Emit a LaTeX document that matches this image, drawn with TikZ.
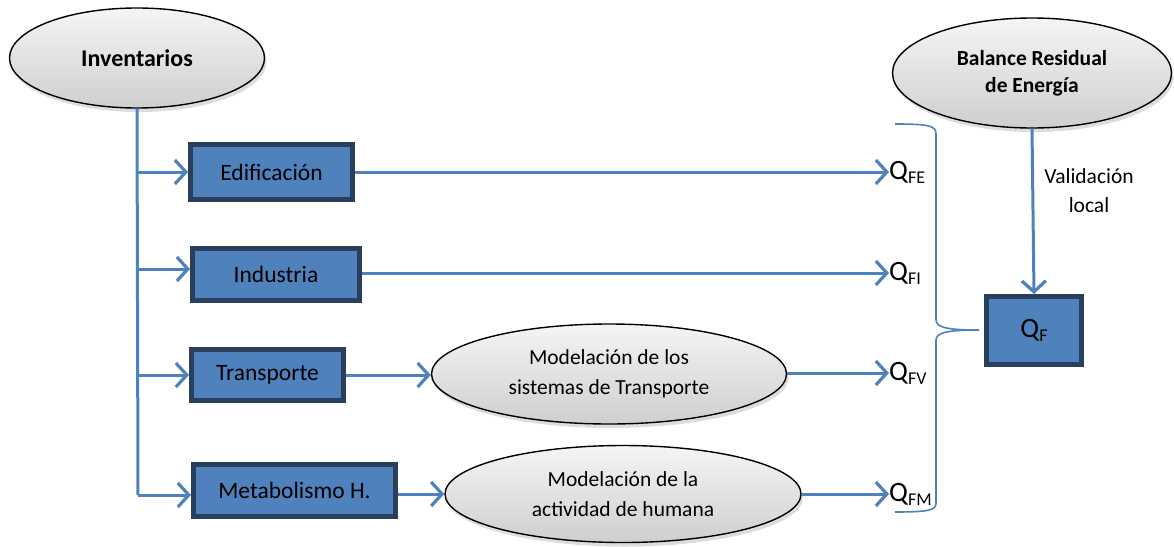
\documentclass[tikz,border=0pt]{standalone}
\usepackage{fontspec}
\setmainfont{Carlito}
\usetikzlibrary{arrows.meta,shapes.geometric,shadows}
\definecolor{obl}{HTML}{4F81BD}
\definecolor{odk}{HTML}{283F5E}
\newcommand{\Qsub}[1]{Q{\fontsize{18}{18}\selectfont\raisebox{-4pt}{#1}}}
\tikzset{
  ell/.style={ellipse, draw=black, line width=1.4pt, top color=gray!8, bottom color=gray!38,
    drop shadow={shadow xshift=2pt, shadow yshift=-4pt, fill=gray!45, opacity=0.6},
    align=center, inner sep=0pt},
  bbox/.style={rectangle, draw=odk, line width=5pt, fill=obl, inner sep=0pt,
    font=\fontsize{23.5}{27}\selectfont},
  conn/.style={draw=obl, line width=3pt},
  arr/.style={conn, -{Straight Barb[length=11pt,width=24pt,line width=3.2pt]}},
  brc/.style={draw=obl, line width=1.6pt},
  qlab/.style={anchor=west, inner sep=0pt, font=\fontsize{28}{30}\selectfont}
}
\begin{document}
\begin{tikzpicture}[x=1pt,y=-1pt]
\useasboundingbox (0,0) rectangle (1174,546);
% ellipses
\node[ell, minimum width=255, minimum height=100, font=\bfseries\fontsize{24}{28}\selectfont] (inv) at (137,58) {Inventarios};
\node[ell, minimum width=279, minimum height=110, font=\bfseries\fontsize{21.5}{27}\selectfont] (bal) at (1032,73) {Balance Residual\\de Energía};
\node[ell, minimum width=355, minimum height=100, font=\fontsize{21.5}{30}\selectfont] (mt) at (609,374) {Modelación de los\\sistemas de Transporte};
\node[ell, minimum width=356, minimum height=97, font=\fontsize{21.5}{30}\selectfont] (mh) at (623,494) {Modelación de la\\actividad de humana};
% boxes
\node[bbox, minimum width=162, minimum height=55] (edif) at (271.5,172) {Edificación};
\node[bbox, minimum width=167, minimum height=52] (ind) at (276,274.5) {Industria};
\node[bbox, minimum width=152, minimum height=51] (tra) at (267.5,375) {Transporte};
\node[bbox, minimum width=202, minimum height=52] (met) at (294.5,490.5) {Metabolismo H.};
\node[bbox, minimum width=95, minimum height=68, font=\fontsize{28}{30}\selectfont] (qf) at (1034,330.5) {\Qsub{F}};
% Q labels
\node[qlab] (qfe) at (889,172) {\Qsub{FE}};
\node[qlab] (qfi) at (889,273) {\Qsub{FI}};
\node[qlab] (qfv) at (889,373) {\Qsub{FV}};
\node[qlab] (qfm) at (889,494) {\Qsub{FM}};
% trunk coordinates
\coordinate (b1) at (138,172);
\coordinate (b2) at (138,269);
\coordinate (b3) at (138,375);
\coordinate (b4) at (138,495);
\draw[conn] (inv.south) -- (b4);
\draw[arr] (b1) -- (edif.west |- b1);
\draw[arr] (b2) -- (ind.west |- b2);
\draw[arr] (b3) -- (tra.west |- b3);
\draw[arr] (b4) -- (met.west |- b4);
\draw[arr] (edif.east |- qfe) -- (qfe.west);
\draw[arr] (ind.east |- qfi) -- (qfi.west);
\draw[arr] (tra.east) -- (mt.west |- tra.east);
\draw[arr] (mt.east |- qfv) -- (qfv.west);
\draw[arr] (met.east |- mh) -- (mh.west);
\draw[arr] (mh.east) -- (qfm.west);
% validation
\draw[arr] (bal.south) -- (qf.north);
\node[align=center, font=\fontsize{21.5}{29}\selectfont] (val) at (1089,191) {Validación\\local};
% brace
\coordinate (bt) at (895,124);
\coordinate (tip) at (979,330);
\coordinate (bb) at (895,512);
\draw[brc] (bt) .. controls (930,124) and (936,126) .. (936,134) -- (936,320)
  .. controls (936,328) and (950,330) .. (tip)
  .. controls (950,330) and (936,332) .. (936,340) -- (936,503)
  .. controls (936,510) and (930,512) .. (bb);
\end{tikzpicture}
\end{document}
